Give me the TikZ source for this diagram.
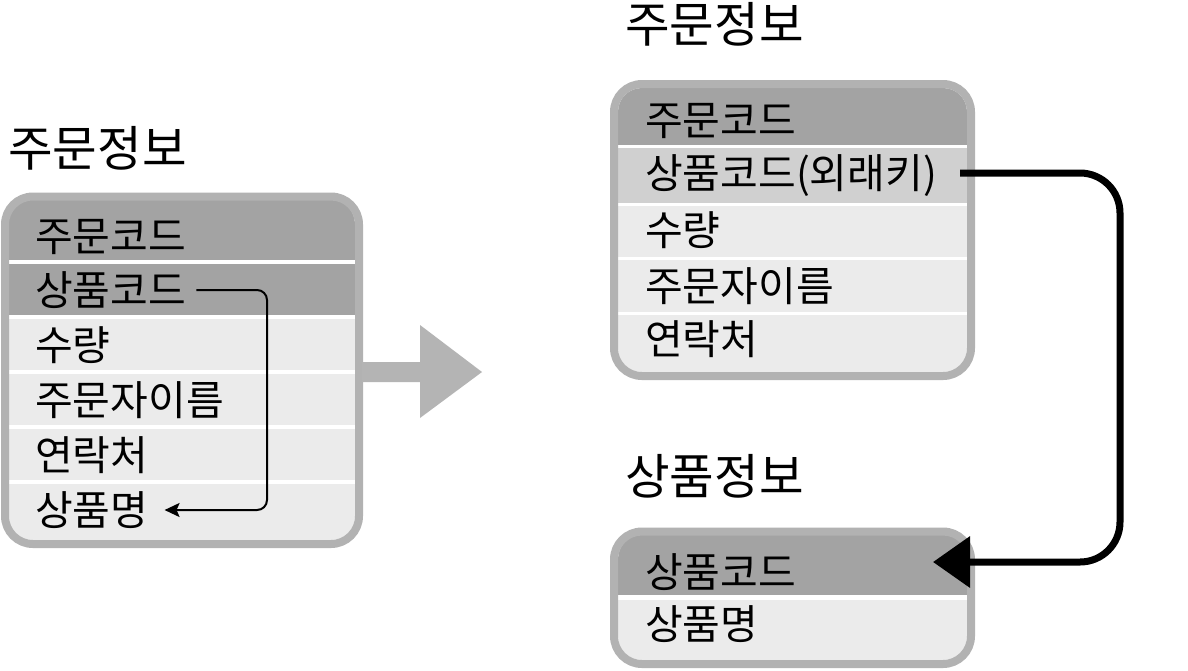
\documentclass[tikz,border=0pt]{standalone}
\usepackage{fontspec}
\newfontfamily\kr{Noto Sans CJK KR}
\usetikzlibrary{arrows.meta}
\definecolor{hdr}{HTML}{A3A3A3}
\definecolor{brd}{HTML}{B2B2B2}
\definecolor{lite}{HTML}{EBEBEB}
\definecolor{midg}{HTML}{D0D0D0}
\definecolor{garrow}{HTML}{B4B4B4}
\tikzset{
  cell/.style={anchor=west,inner sep=0pt,font=\kr\fontsize{41}{44}\selectfont},
  ttl/.style={anchor=west,inner sep=0pt,font=\kr\fontsize{48.5}{52}\selectfont},
  frame/.style={draw=brd,line width=8pt,rounded corners=28pt},
}
\begin{document}
\begin{tikzpicture}[x=1pt,y=-1pt]
\useasboundingbox (0,0) rectangle (1188,670);
\fill[white] (0,0) rectangle (1188,670);

% ---------- left table ----------
\begin{scope}
\clip[rounded corners=24pt] (8,200) rectangle (355,540);
\fill[hdr] (0,190) rectangle (360,260);
\fill[hdr] (0,264) rectangle (360,315);
\fill[lite] (0,319) rectangle (360,370);
\fill[lite] (0,374) rectangle (360,425);
\fill[lite] (0,429) rectangle (360,480);
\fill[lite] (0,484) rectangle (360,545);
\end{scope}
\draw[frame] (5,196.5) rectangle (359,544);

\node[ttl] (ltitle) at (8,148) {주문정보};
\node[cell] (lorder) at (35,237) {주문코드};
\node[cell] (lcode) at (35,290) {상품코드};
\node[cell] (lqty) at (35,345) {수량};
\node[cell] (lcust) at (35,400) {주문자이름};
\node[cell] (lcont) at (35,455) {연락처};
\node[cell] (lname) at (35,510) {상품명};

\coordinate (lx) at (267,400);
\coordinate (ls) at ([xshift=10pt]lcode.east);
\coordinate (le) at ([xshift=16pt]lname.east);
\draw[line width=2pt,rounded corners=10pt,-{Stealth[length=15pt,width=14pt,inset=3pt]}]
  (ls) -- (ls -| lx) -- (le -| lx) -- (le);

% ---------- transform arrow ----------
\fill[garrow] (362,362) -- (420,362) -- (420,325) -- (482,372) -- (420,418) -- (420,382) -- (362,382) -- cycle;

% ---------- right top table ----------
\begin{scope}
\clip[rounded corners=24pt] (618,88) rectangle (967,372);
\fill[hdr] (600,80) rectangle (980,145);
\fill[midg] (600,148) rectangle (980,203);
\fill[lite] (600,206) rectangle (980,257);
\fill[lite] (600,260) rectangle (980,312);
\fill[lite] (600,315) rectangle (980,380);
\end{scope}
\draw[frame] (614,84) rectangle (971,376);

\node[ttl] (rtitle) at (625,24) {주문정보};
\node[cell] (rorder) at (645,121) {주문코드};
\node[cell] (rfk) at (645,176) {상품코드(외래키)};
\node[cell] (rqty) at (645,230) {수량};
\node[cell] (rcust) at (645,286) {주문자이름};
\node[cell] (rcont) at (645,339) {연락처};

% ---------- right bottom table ----------
\begin{scope}
\clip[rounded corners=24pt] (618,535) rectangle (967,660);
\fill[hdr] (600,525) rectangle (980,595);
\fill[lite] (600,600) rectangle (980,670);
\end{scope}
\draw[frame] (614,531.5) rectangle (971,664);

\node[ttl] (btitle) at (625,476) {상품정보};
\node[cell] (bcode) at (645,572) {상품코드};
\node[cell] (bname) at (645,624) {상품명};

% ---------- foreign key connector ----------
\coordinate (fkstart) at (960,173);
\coordinate (rx) at (1120,400);
\coordinate (fktip) at (933,562);
\draw[line width=7pt,rounded corners=40pt,-{Triangle[length=37pt,width=50pt]}]
  (fkstart) -- (fkstart -| rx) -- (fktip -| rx) -- (fktip);
\end{tikzpicture}
\end{document}
